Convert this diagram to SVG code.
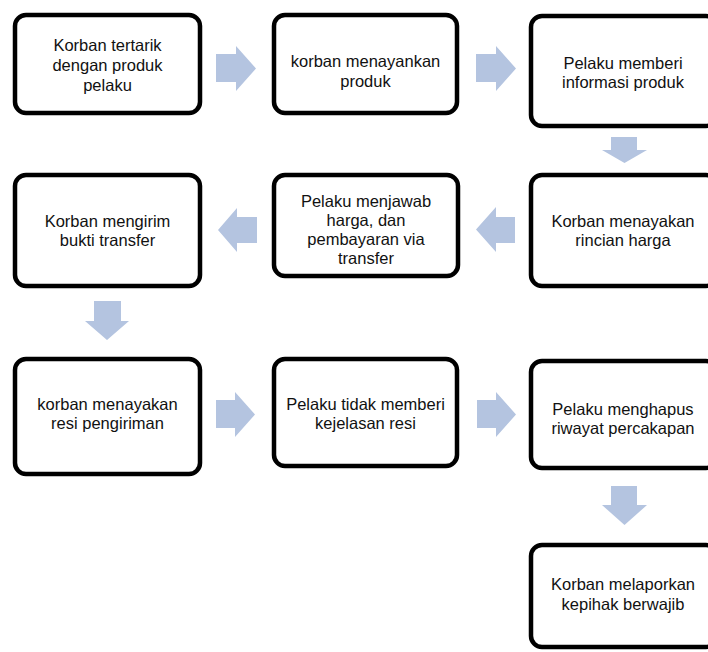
<svg xmlns="http://www.w3.org/2000/svg" width="708" height="652" viewBox="0 0 708 652">
<style>
.box{fill:#fff;stroke:#000;stroke-width:4.5}
.t{font-family:"Liberation Sans",Arial,sans-serif;font-size:16.5px;fill:#111;text-anchor:middle}
.arr{fill:#b4c4e0}
</style>
<rect width="708" height="652" fill="#fff"/>
<g id="connectors">
<polygon class="arr" points="216,54 236,54 236,46 256,68.5 236,91 236,82 216,82"/>
<polygon class="arr" points="476,54 496,54 496,46 516,68.5 496,91 496,82 476,82"/>
<polygon class="arr" points="611,137 637,137 637,150 647,150 624.5,163 602,150 611,150"/>
<polygon class="arr" points="515,217 496,217 496,207 476,229.5 496,252 496,243 515,243"/>
<polygon class="arr" points="257,217 237,217 237,208 218,230 237,252 237,243 257,243"/>
<polygon class="arr" points="94,301 121,301 121,321 129,321 107,340 85,321 94,321"/>
<polygon class="arr" points="216,400 235,400 235,392 255,414.5 235,437 235,428 216,428"/>
<polygon class="arr" points="477,400 496,400 496,392 516,414.5 496,437 496,428 477,428"/>
<polygon class="arr" points="611,486 637,486 637,505 647,505 624.5,525 602,505 611,505"/>
</g>
<g id="n1"><rect class="box" x="15" y="15" width="185" height="98" rx="11"/>
<text class="t" x="107.5" y="51">Korban tertarik</text><text class="t" x="107.5" y="71">dengan produk</text><text class="t" x="107.5" y="91">pelaku</text></g>
<g id="n2"><rect class="box" x="274" y="15" width="183" height="98" rx="11"/>
<text class="t" x="365.5" y="67">korban menayankan</text><text class="t" x="365.5" y="87">produk</text></g>
<g id="n3"><rect class="box" x="531" y="16" width="186" height="110" rx="11"/>
<text class="t" x="623" y="69">Pelaku memberi</text><text class="t" x="623" y="88">informasi produk</text></g>
<g id="n4"><rect class="box" x="531" y="175" width="186" height="111" rx="11"/>
<text class="t" x="623" y="227">Korban menayakan</text><text class="t" x="623" y="246">rincian harga</text></g>
<g id="n5"><rect class="box" x="274" y="175" width="184" height="101" rx="11"/>
<text class="t" x="366" y="207">Pelaku menjawab</text><text class="t" x="366" y="226">harga, dan</text><text class="t" x="366" y="245">pembayaran via</text><text class="t" x="366" y="264">transfer</text></g>
<g id="n6"><rect class="box" x="15" y="175" width="185" height="111" rx="11"/>
<text class="t" x="107.5" y="227">Korban mengirim</text><text class="t" x="107.5" y="246">bukti transfer</text></g>
<g id="n7"><rect class="box" x="15" y="359" width="185" height="115" rx="11"/>
<text class="t" x="107.5" y="410">korban menayakan</text><text class="t" x="107.5" y="429">resi pengiriman</text></g>
<g id="n8"><rect class="box" x="274" y="359" width="183" height="107" rx="11"/>
<text class="t" x="365.5" y="410">Pelaku tidak memberi</text><text class="t" x="365.5" y="429">kejelasan resi</text></g>
<g id="n9"><rect class="box" x="531" y="361" width="186" height="107" rx="11"/>
<text class="t" x="623" y="415">Pelaku menghapus</text><text class="t" x="623" y="434">riwayat percakapan</text></g>
<g id="n10"><rect class="box" x="531" y="545" width="186" height="102" rx="11"/>
<text class="t" x="623" y="590">Korban melaporkan</text><text class="t" x="623" y="610">kepihak berwajib</text></g>
</svg>
